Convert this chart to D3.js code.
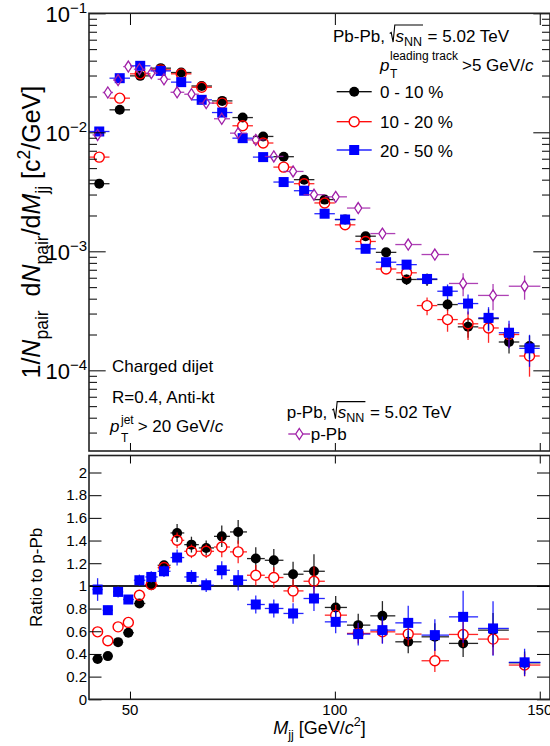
<!DOCTYPE html>
<html><head><meta charset="utf-8">
<script src="https://cdn.jsdelivr.net/npm/d3@7"></script>
<style>
html,body{margin:0;padding:0;background:#fff;}
svg{display:block;}
text{font-family:"Liberation Sans",Arial,Helvetica,sans-serif;fill:#000;white-space:pre;}
</style>
</head><body>
<svg id="c" width="550" height="746"></svg>
<script>
// ---------------- DATA ----------------
// Pb-Pb spectra (5 GeV bins)
const pbpbMass = [42.5,47.5,52.5,57.5,62.5,67.5,72.5,77.5,82.5,87.5,92.5,97.5,102.5,107.5,112.5,117.5,122.5,127.5,132.5,137.5,142.5,147.5];
const pbpbHalfWidth = 2.5;
const cent0010 = [3.7e-3,0.01545,0.0298,0.0346,0.0318,0.0245,0.01837,0.0133,9.23e-3,6.24e-3,4.0e-3,2.72e-3,1.85e-3,1.34e-3,9.8e-4,5.8e-4,5.8e-4,3.57e-4,2.32e-4,2.72e-4,1.73e-4,1.6e-4];
const cent0010Err = [0.02,0.02,0.02,0.02,0.02,0.02,0.03,0.03,0.03,0.04,0.04,0.05,0.05,0.05,0.06,0.1,0.12,0.12,0.19,0.2,0.2,0.22];
const cent1020 = [6.19e-3,0.01936,0.031,0.0335,0.031,0.0239,0.0176,0.01135,8.13e-3,5.1e-3,3.7e-3,2.55e-3,1.67e-3,1.21e-3,7.1e-4,6.6e-4,3.5e-4,2.67e-4,2.46e-4,2.27e-4,2.0e-4,1.32e-4];
const cent1020Err = [0.02,0.02,0.02,0.02,0.02,0.03,0.03,0.03,0.04,0.04,0.05,0.05,0.06,0.07,0.08,0.1,0.17,0.21,0.27,0.25,0.23,0.33];
const cent2050 = [0.01016,0.0285,0.0362,0.0328,0.0264,0.01875,0.01466,8.93e-3,6.19e-3,3.82e-3,3.23e-3,2.07e-3,1.85e-3,1.05e-3,8.1e-4,7.73e-4,5.86e-4,4.62e-4,3.64e-4,2.76e-4,2.07e-4,1.53e-4];
const cent2050Err = [0.02,0.02,0.02,0.02,0.02,0.02,0.03,0.03,0.03,0.04,0.04,0.05,0.05,0.05,0.05,0.06,0.1,0.14,0.19,0.23,0.26,0.3];
// p-Pb reference (fine bins)
const ppbMass = [42.1,44.6,47.1,49.6,52.3,55.2,58.3,61.5,65.0,68.6,72.4,76.4,80.7,85.1,89.8,94.9,100.2,105.7,111.6,117.9,124.4,131.3,138.6,146.3];
const ppb = [9.5e-3,0.0216,0.0275,0.0357,0.0339,0.0314,0.0279,0.0217,0.0209,0.0176,0.0130,9.84e-3,8.64e-3,6.27e-3,4.69e-3,2.99e-3,2.87e-3,2.31e-3,1.41e-3,1.14e-3,9.4e-4,5.37e-4,4.26e-4,5.09e-4];
const ppbErr = [0.02,0.02,0.02,0.02,0.02,0.02,0.02,0.02,0.02,0.02,0.02,0.02,0.02,0.03,0.03,0.03,0.03,0.04,0.06,0.07,0.07,0.22,0.25,0.23];
// Ratios to p-Pb
const ratio0010 = [0.355,0.381,0.504,0.587,0.845,1.006,1.182,1.467,1.364,1.335,1.437,1.476,1.241,1.226,1.103,1.129,0.81,0.654,0.736,0.507,0.551,0.493,0.61,0.322];
const ratio0010Err = [0.02,0.02,0.02,0.02,0.03,0.03,0.04,0.08,0.07,0.065,0.095,0.105,0.1,0.1,0.11,0.15,0.1,0.1,0.13,0.1,0.12,0.12,0.15,0.1];
const ratio1020 = [0.595,0.516,0.639,0.678,0.918,1.012,1.162,1.402,1.305,1.305,1.343,1.30,1.094,1.074,0.956,1.041,0.742,0.581,0.595,0.575,0.34,0.572,0.531,0.302];
const ratio1020Err = [0.02,0.02,0.02,0.02,0.03,0.03,0.04,0.07,0.06,0.06,0.09,0.1,0.09,0.09,0.1,0.13,0.09,0.09,0.1,0.1,0.1,0.11,0.14,0.1];
const ratio2050 = [0.968,0.786,0.947,0.88,1.05,1.079,1.129,1.25,1.079,1.006,1.138,1.05,0.836,0.801,0.757,0.889,0.683,0.575,0.61,0.674,0.566,0.727,0.625,0.326];
const ratio2050Err = [0.1,0.04,0.05,0.04,0.05,0.05,0.05,0.07,0.06,0.06,0.08,0.09,0.08,0.08,0.09,0.11,0.1,0.1,0.12,0.15,0.14,0.23,0.24,0.12];
// axis ticks
const xTicks = [50,100,150];
const decadeTicks = [1e-4,1e-3,1e-2,1e-1];
const decadeExp = ["−4","−3","−2","−1"];
const ratioTicks = [0,0.2,0.4,0.6,0.8,1,1.2,1.4,1.6,1.8,2];
const legendLabels = ["0 - 10 %","10 - 20 %","20 - 50 %"];

// ---------------- LAYOUT ----------------
const svg = d3.select("#c");
const L = 89, R = 550;
const topT = 13.3, topB = 451, ratT = 455.5, ratB = 699.3;
const x = d3.scaleLinear().domain([40,152.5]).range([L,R]);
const yTop = d3.scaleLog().domain([2.1e-5,0.1]).range([topB,topT]);
const yRat = d3.scaleLinear().domain([0,2.15]).range([ratB,ratT]);

const C_BLACK = "#000", C_RED = "#ff0000", C_BLUE = "#0000ff", C_PUR = "#a020a8";

// ---------------- helpers ----------------
function rich(g, x0, y0, pieces) {
  let cx = x0;
  for (const p of pieces) {
    if (p.sqrt) {
      const f = p.size, xs = cx;
      const inner = rich(g, xs + 0.34*f, y0, p.sqrt);
      g.append("path").attr("fill","none").attr("stroke","#000").attr("stroke-width",1.1)
        .attr("d", `M${xs},${y0-0.48*f} L${xs+0.09*f},${y0-0.54*f} L${xs+0.2*f},${y0+0.02*f} L${xs+0.3*f},${y0-0.98*f} L${inner+1},${y0-0.98*f}`);
      cx = inner + 0.05*f;
    } else if (p.stack) {
      let w = 0;
      for (const q of p.stack) {
        const t = g.append("text").attr("x",cx).attr("y",y0+q.shift).attr("font-size",q.size).text(q.t);
        w = Math.max(w, t.node().getComputedTextLength());
      }
      cx += w + (p.gap||0);
    } else {
      const t = g.append("text").attr("x",cx).attr("y",y0+(p.shift||0)).attr("font-size",p.size).text(p.t);
      if (p.it) t.attr("font-style","italic");
      cx += t.node().getComputedTextLength() + (p.gap||0);
    }
  }
  return cx;
}
function tspans(t, parts, base) {
  let cur = 0;
  for (const p of parts) {
    const sh = p.sub ? 0.3*base : (p.sup ? -0.42*base : 0);
    const s = t.append("tspan").attr("dy", sh - cur).attr("font-size", (p.sub||p.sup) ? 0.7*base : base).text(p.t);
    if (p.it) s.attr("font-style","italic");
    cur = sh;
  }
}
function marker(g, type, cx, cy) {
  if (type === "fc") g.append("circle").attr("cx",cx).attr("cy",cy).attr("r",5).attr("fill",C_BLACK);
  else if (type === "oc") g.append("circle").attr("cx",cx).attr("cy",cy).attr("r",5).attr("fill","none").attr("stroke",C_RED).attr("stroke-width",1.4);
  else if (type === "sq") g.append("rect").attr("x",cx-5).attr("y",cy-5).attr("width",10).attr("height",10).attr("fill",C_BLUE);
  else if (type === "di") g.append("path").attr("d",`M${cx},${cy-5.5} L${cx+3.6},${cy} L${cx},${cy+5.5} L${cx-3.6},${cy} Z`).attr("fill","none").attr("stroke",C_PUR).attr("stroke-width",1.3);
}
const gapOf = {fc:0, oc:5, sq:0, di:4};
function drawSeries(g, xs, lo, hi, ys, ylo, yhi, yScale, type, color) {
  const gap = gapOf[type];
  xs.forEach((xv,i) => {
    const cx = x(xv), cy = yScale(ys[i]);
    const xl = x(lo[i]), xr = x(hi[i]);
    const yl = yScale(ylo[i]), yh = yScale(yhi[i]);
    const segs = [];
    if (cx-gap > xl) segs.push([xl,cy,cx-gap,cy]);
    if (xr > cx+gap) segs.push([cx+gap,cy,xr,cy]);
    if (yl > cy+gap) segs.push([cx,cy+gap,cx,yl]);
    if (cy-gap > yh) segs.push([cx,yh,cx,cy-gap]);
    segs.forEach(s => g.append("line").attr("x1",s[0]).attr("y1",s[1]).attr("x2",s[2]).attr("y2",s[3])
      .attr("stroke",color).attr("stroke-width",1.3).attr("stroke-opacity",0.85));
  });
  xs.forEach((xv,i) => marker(g, type, x(xv), yScale(ys[i])));
}
// p-Pb bin edges from centres
const ppbLo = ppbMass.map((c,i) => i===0 ? c-(ppbMass[1]-c)/2 : (ppbMass[i-1]+c)/2);
const ppbHi = ppbMass.map((c,i) => i===ppbMass.length-1 ? c+(c-ppbMass[i-1])/2 : (c+ppbMass[i+1])/2);
const pbLo = pbpbMass.map(c => c-pbpbHalfWidth), pbHi = pbpbMass.map(c => c+pbpbHalfWidth);

// ---------------- TOP PANEL ----------------
const topG = svg.append("g");
const dTop = topG.append("g");
const sets = [[cent0010,cent0010Err,"fc",C_BLACK],[cent1020,cent1020Err,"oc",C_RED],[cent2050,cent2050Err,"sq",C_BLUE]];
sets.forEach(s => drawSeries(dTop, pbpbMass, pbLo, pbHi, s[0], s[0].map((v,i)=>v*(1-s[1][i])), s[0].map((v,i)=>v*(1+s[1][i])), yTop, s[2], s[3]));
drawSeries(dTop, ppbMass, ppbLo, ppbHi, ppb, ppb.map((v,i)=>v*(1-ppbErr[i])), ppb.map((v,i)=>v*(1+ppbErr[i])), yTop, "di", C_PUR);

// axes top
function styleAxis(sel){ sel.select(".domain").remove(); sel.selectAll("line").attr("stroke","#000").attr("stroke-width",1); sel.selectAll("text").remove(); }
const allTicks = yTop.ticks();
const minor = allTicks.filter(v => !decadeTicks.some(d => Math.abs(d-v)/d < 1e-6));
topG.append("g").attr("transform",`translate(${L},0)`).call(d3.axisLeft(yTop).tickValues(decadeTicks).tickSize(-16.7)).call(styleAxis);
topG.append("g").attr("transform",`translate(${L},0)`).call(d3.axisLeft(yTop).tickValues(minor).tickSize(-8)).call(styleAxis);
topG.append("g").attr("transform",`translate(${R},0)`).call(d3.axisRight(yTop).tickValues(decadeTicks).tickSize(-16.7)).call(styleAxis);
topG.append("g").attr("transform",`translate(${R},0)`).call(d3.axisRight(yTop).tickValues(minor).tickSize(-8)).call(styleAxis);
topG.append("g").attr("transform",`translate(0,${topT})`).call(d3.axisTop(x).tickValues(xTicks).tickSize(-11.7)).call(styleAxis);
topG.append("g").attr("transform",`translate(0,${topB})`).call(d3.axisBottom(x).tickValues(xTicks).tickSize(-8)).call(styleAxis);
topG.append("rect").attr("x",L).attr("y",topT).attr("width",R-L).attr("height",topB-topT).attr("fill","none").attr("stroke","#222").attr("stroke-width",1.6);
decadeTicks.forEach((d,i) => {
  const t = topG.append("text").attr("x",87).attr("y",yTop(d)+8.5).attr("text-anchor","end").attr("font-size",22);
  t.append("tspan").text("10");
  t.append("tspan").attr("dy",-8.5).attr("font-size",15).text(decadeExp[i]);
});
const yt = topG.append("text").attr("transform",`translate(40,${(topT+topB)/2}) rotate(-90)`).attr("text-anchor","middle").attr("font-size",25);
tspans(yt, [{t:"1/"},{t:"N",it:1},{t:"pair",sub:1},{t:"  d"},{t:"N",it:1},{t:"pair",sub:1},{t:"/d"},{t:"M",it:1},{t:"jj",sub:1},{t:" [c"},{t:"2",sup:1},{t:"/GeV]"}], 25);

// legend Pb-Pb
const lg = topG.append("g");
rich(lg, 333, 41.7, [{t:"Pb-Pb, ",size:17},{sqrt:[{t:"s",size:17,it:1},{t:"NN",size:12.5,shift:4}],size:17},{t:" = 5.02 TeV",size:17}]);
rich(lg, 380, 71, [{t:"p",size:17,it:1,gap:0.5},{stack:[{t:"leading track",size:12,shift:-11},{t:"T",size:12,shift:7}],gap:4},{t:">5 GeV/",size:17},{t:"c",size:17,it:1}]);
const legY = [91.7,121.7,150], legTypes = ["fc","oc","sq"], legCols = [C_BLACK,C_RED,C_BLUE];
legendLabels.forEach((lab,i) => {
  const gp = gapOf[legTypes[i]];
  lg.append("line").attr("x1",336.7).attr("x2",354.2-gp).attr("y1",legY[i]).attr("y2",legY[i]).attr("stroke",legCols[i]).attr("stroke-width",1.3);
  lg.append("line").attr("x1",354.2+gp).attr("x2",371.7).attr("y1",legY[i]).attr("y2",legY[i]).attr("stroke",legCols[i]).attr("stroke-width",1.3);
  marker(lg, legTypes[i], 354.2, legY[i]);
  lg.append("text").attr("x",380).attr("y",legY[i]+6.5).attr("font-size",17).text(lab);
});
rich(lg, 112, 372, [{t:"Charged dijet",size:17}]);
rich(lg, 112, 403.3, [{t:"R=0.4, Anti-kt",size:17}]);
rich(lg, 110, 432.3, [{t:"p",size:17,it:1,gap:1.5},{stack:[{t:"jet",size:12,shift:-8},{t:"T",size:12,shift:10}],gap:4},{t:"> 20 GeV/",size:17},{t:"c",size:17,it:1}]);
rich(lg, 286.7, 418.3, [{t:"p-Pb, ",size:17},{sqrt:[{t:"s",size:17,it:1},{t:"NN",size:12.5,shift:4}],size:17},{t:" = 5.02 TeV",size:17}]);
lg.append("line").attr("x1",288.3).attr("x2",295.5).attr("y1",434).attr("y2",434).attr("stroke",C_PUR).attr("stroke-width",1.3);
lg.append("line").attr("x1",303.1).attr("x2",310).attr("y1",434).attr("y2",434).attr("stroke",C_PUR).attr("stroke-width",1.3);
marker(lg, "di", 299.3, 434);
lg.append("text").attr("x",310.7).attr("y",439.5).attr("font-size",17).text("p-Pb");

// ---------------- RATIO PANEL ----------------
const rat = svg.append("g");
rat.append("line").attr("x1",L).attr("x2",R).attr("y1",yRat(1)).attr("y2",yRat(1)).attr("stroke","#222").attr("stroke-width",2);
const rsets = [[ratio0010,ratio0010Err,"fc",C_BLACK],[ratio1020,ratio1020Err,"oc",C_RED],[ratio2050,ratio2050Err,"sq",C_BLUE]];
rsets.forEach(s => drawSeries(rat, ppbMass, ppbLo, ppbHi, s[0], s[0].map((v,i)=>v-s[1][i]), s[0].map((v,i)=>v+s[1][i]), yRat, s[2], s[3]));
rat.append("g").attr("transform",`translate(${L},0)`).call(d3.axisLeft(yRat).tickValues(ratioTicks).tickSize(-12.5)).call(styleAxis);
rat.append("g").attr("transform",`translate(${R},0)`).call(d3.axisRight(yRat).tickValues(ratioTicks).tickSize(-13)).call(styleAxis);
rat.append("g").attr("transform",`translate(0,${ratT})`).call(d3.axisTop(x).tickValues(xTicks).tickSize(-8)).call(styleAxis);
rat.append("g").attr("transform",`translate(0,${ratB})`).call(d3.axisBottom(x).tickValues(xTicks).tickSize(-7.7)).call(styleAxis);
rat.append("rect").attr("x",L).attr("y",ratT).attr("width",R-L).attr("height",ratB-ratT).attr("fill","none").attr("stroke","#222").attr("stroke-width",1.6);
const fmt = d3.format("~g");
ratioTicks.forEach(v => rat.append("text").attr("x",87).attr("y",yRat(v)+5.3).attr("text-anchor","end").attr("font-size",15).text(fmt(v)));
xTicks.forEach(v => rat.append("text").attr("x",x(v)).attr("y",715).attr("text-anchor","middle").attr("font-size",15).text(fmt(v)));
const xt = rat.append("text").attr("x",(L+R)/2).attr("y",734).attr("text-anchor","middle").attr("font-size",18);
tspans(xt, [{t:"M",it:1},{t:"jj",sub:1},{t:" [GeV/"},{t:"c",it:1},{t:"2",sup:1},{t:"]"}], 18);
rat.append("text").attr("transform",`translate(41.5,${(ratT+ratB)/2}) rotate(-90)`).attr("text-anchor","middle").attr("font-size",17).text("Ratio to p-Pb");
</script>
</body></html>
